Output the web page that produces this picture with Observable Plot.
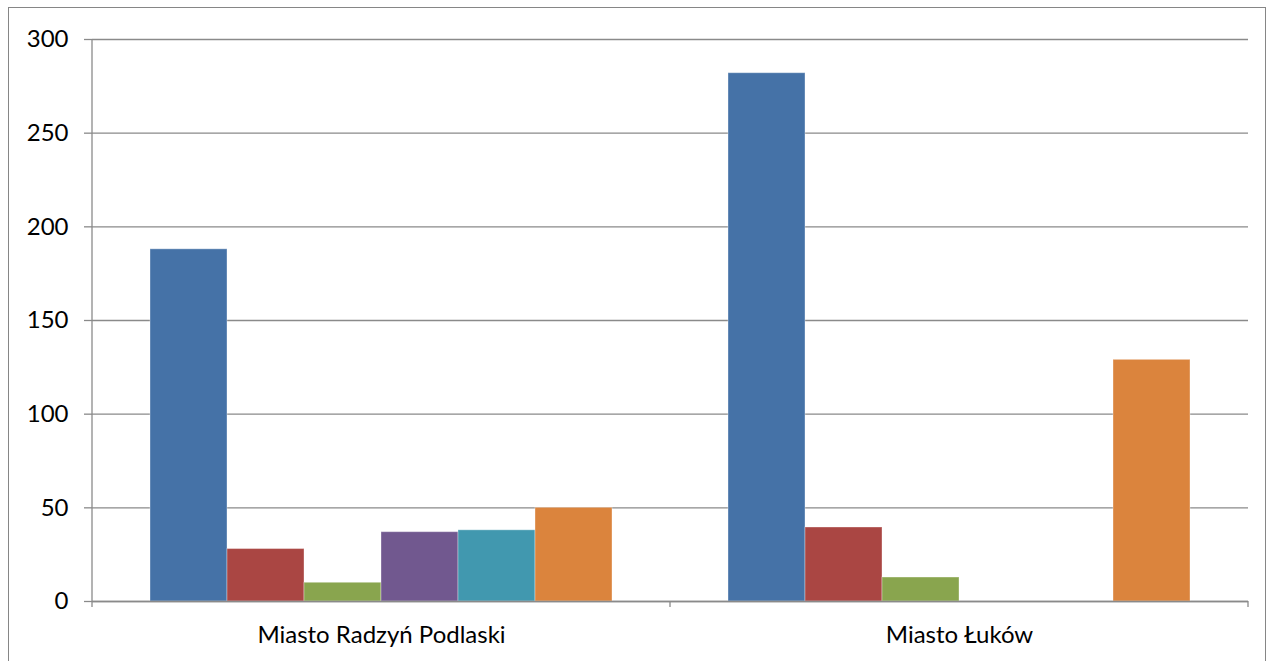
<!DOCTYPE html>
<html>
<head>
<meta charset="utf-8">
<script src="https://cdn.jsdelivr.net/npm/d3@7"></script>
<script src="https://cdn.jsdelivr.net/npm/@observablehq/plot@0.6"></script>
<style>
  html, body { margin: 0; padding: 0; background: #fff; }
  #wrap { position: relative; width: 1266px; height: 661px; overflow: hidden; }
  #border { position: absolute; left: 8px; top: 7px; width: 1258px; height: 700px; box-sizing: border-box; border: 1px solid #868686; pointer-events: none; }
  #chart { position: absolute; left: 0; top: 0; }
</style>
</head>
<body>
<div id="wrap"><div id="chart"></div><div id="border"></div></div>
<script>
const cities = ["Miasto Radzyń Podlaski", "Miasto Łuków"];
const series = ["Seria 1", "Seria 2", "Seria 3", "Seria 4", "Seria 5", "Seria 6"];
const radzynValues = [188, 28, 10, 37, 38, 50];
const lukowValues = [282, 39.5, 12.8, null, null, 129];
const yTicks = [0, 50, 100, 150, 200, 250, 300];
const colors = ["#4572A7", "#AA4643", "#89A54E", "#71588F", "#4198AF", "#DB843D"];

const data = [];
[radzynValues, lukowValues].forEach((vals, i) => {
  vals.forEach((v, j) => {
    if (v != null) data.push({city: cities[i], series: series[j], value: v});
  });
});

const gridColor = "#8a8a8a";
const fontFamily = "Lato, 'Open Sans', sans-serif";

const plot = Plot.plot({
  width: 1266,
  height: 661,
  marginLeft: 91,
  marginRight: 18,
  marginTop: 39,
  marginBottom: 60,
  style: {fontFamily, fontSize: "24px", color: "#000", background: "transparent"},
  fx: {domain: cities, padding: 0, label: null},
  x: {domain: series, paddingInner: 0, paddingOuter: 0.75, axis: null},
  y: {domain: [0, 300], label: null},
  color: {domain: series, range: colors},
  marks: [
    Plot.gridY(yTicks, {stroke: gridColor, strokeOpacity: 1, strokeWidth: 1.3}),
    Plot.barY(data, {fx: "city", x: "series", y: "value", fill: "series", stroke: "#ffffff", strokeOpacity: 0.35, strokeWidth: 1}),
    Plot.ruleY([0], {stroke: gridColor, strokeWidth: 1.3}),
    Plot.axisY({ticks: yTicks, tickSize: 8, tickPadding: 16, stroke: gridColor, strokeWidth: 1.3, fill: "#000", label: null, fontSize: 24}),
    Plot.axisFx({anchor: "bottom", tickSize: 0, tickPadding: 24, label: null, fill: "#000", fontSize: 24})
  ]
});

document.getElementById("chart").appendChild(plot);

// Axis line and category separator ticks, placed with Plot's own scales
const fx = plot.scale("fx");
const y = plot.scale("y");
const svg = d3.select(plot);
const edges = cities.map(c => fx.apply(c));
edges.push(fx.apply(cities[cities.length - 1]) + fx.bandwidth);
const y0 = y.apply(0), yTop = y.apply(300);
edges.forEach((ex, i) => {
  svg.append("line")
    .attr("x1", ex).attr("x2", ex)
    .attr("y1", i === 0 ? yTop : y0).attr("y2", y0 + 6)
    .attr("stroke", gridColor).attr("stroke-width", 1.3);
});
</script>
</body>
</html>
